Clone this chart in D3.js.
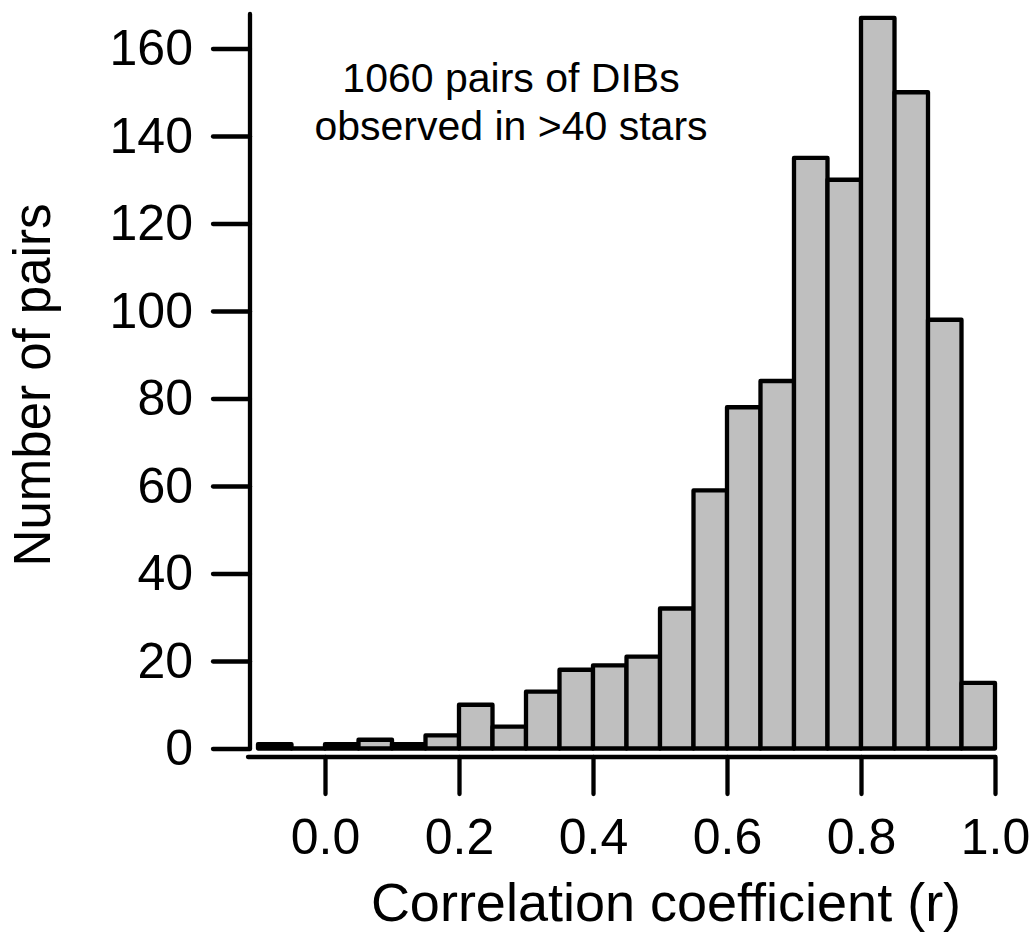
<!DOCTYPE html>
<html>
<head>
<meta charset="utf-8">
<script src="https://cdn.jsdelivr.net/npm/d3@7"></script>
<style>
  html, body { margin: 0; padding: 0; background: #fff; }
  svg { display: block; }
  text { font-family: "Liberation Sans", Arial, sans-serif; fill: #000; }
</style>
</head>
<body>
<svg id="chart" width="1034" height="936"></svg>
<script>
// Histogram bin edges (lower edge of each bin, width 0.05)
const binStarts = [-0.10, -0.05, 0.00, 0.05, 0.10, 0.15, 0.20, 0.25, 0.30, 0.35, 0.40,
                   0.45, 0.50, 0.55, 0.60, 0.65, 0.70, 0.75, 0.80, 0.85, 0.90, 0.95];
const binWidth = 0.05;
const counts = [1, 0, 1, 2, 1, 3, 10, 5, 13, 18, 19,
                21, 32, 59, 78, 84, 135, 130, 167, 150, 98, 15];
const xTicks = [0.0, 0.2, 0.4, 0.6, 0.8, 1.0];
const xTickLabels = ["0.0", "0.2", "0.4", "0.6", "0.8", "1.0"];
const yTicks = [0, 20, 40, 60, 80, 100, 120, 140, 160];
const annotation = ["1060 pairs of DIBs", "observed in >40 stars"];
const xTitle = "Correlation coefficient (r)";
const yTitle = "Number of pairs";

const svg = d3.select("#chart");
const x = d3.scaleLinear().domain([0, 1]).range([325, 995]);
const y = d3.scaleLinear().domain([0, 160]).range([748.5, 48.5]);

// Bars
svg.append("g").selectAll("path")
  .data(binStarts.map((s, i) => ({ x0: s, x1: s + binWidth, v: counts[i] })))
  .join("path")
  .attr("d", d => {
    const x0 = x(d.x0), x1 = x(d.x1), y0 = y(0), y1 = y(d.v);
    return `M${x0},${y0}V${y1}H${x1}V${y0}Z`;
  })
  .attr("fill", "#bfbfbf")
  .attr("stroke", "#000")
  .attr("stroke-width", 4.3)
  .attr("stroke-linejoin", "round");

// Y axis
const yAxis = svg.append("g").attr("transform", "translate(250,0)")
  .call(d3.axisLeft(y).tickValues(yTicks).tickSize(37).tickPadding(20).tickFormat(d3.format("d")));
yAxis.select(".domain").remove();
yAxis.append("line").attr("x1", 0).attr("x2", 0).attr("y1", 14).attr("y2", y(0))
  .attr("stroke", "#000").attr("stroke-width", 4.3).attr("stroke-linecap", "round");
yAxis.selectAll(".tick line").attr("stroke", "#000").attr("stroke-width", 4.3).attr("stroke-linecap", "round");
yAxis.selectAll(".tick text").attr("font-size", 50).attr("fill", "#000")
  .attr("font-family", "Liberation Sans, Arial, sans-serif");

// X axis
const xAxis = svg.append("g").attr("transform", "translate(0,757)")
  .call(d3.axisBottom(x).tickValues(xTicks).tickSize(37).tickPadding(24)
    .tickFormat((d, i) => xTickLabels[i]));
xAxis.select(".domain").remove();
xAxis.append("line").attr("x1", 248).attr("x2", x(1)).attr("y1", 0).attr("y2", 0)
  .attr("stroke", "#000").attr("stroke-width", 4.3).attr("stroke-linecap", "round");
xAxis.selectAll(".tick line").attr("stroke", "#000").attr("stroke-width", 4.3).attr("stroke-linecap", "round");
xAxis.selectAll(".tick text").attr("font-size", 50).attr("fill", "#000")
  .attr("font-family", "Liberation Sans, Arial, sans-serif");

// Titles
svg.append("text").attr("x", 666).attr("y", 921).attr("text-anchor", "middle")
  .attr("font-size", 54).text(xTitle);
svg.append("text").attr("transform", "translate(50,385) rotate(-90)")
  .attr("text-anchor", "middle").attr("font-size", 51).text(yTitle);

// Annotation
svg.append("g").selectAll("text").data(annotation).join("text")
  .attr("x", 511).attr("y", (d, i) => 92 + i * 48)
  .attr("text-anchor", "middle").attr("font-size", 41).text(d => d);
</script>
</body>
</html>
